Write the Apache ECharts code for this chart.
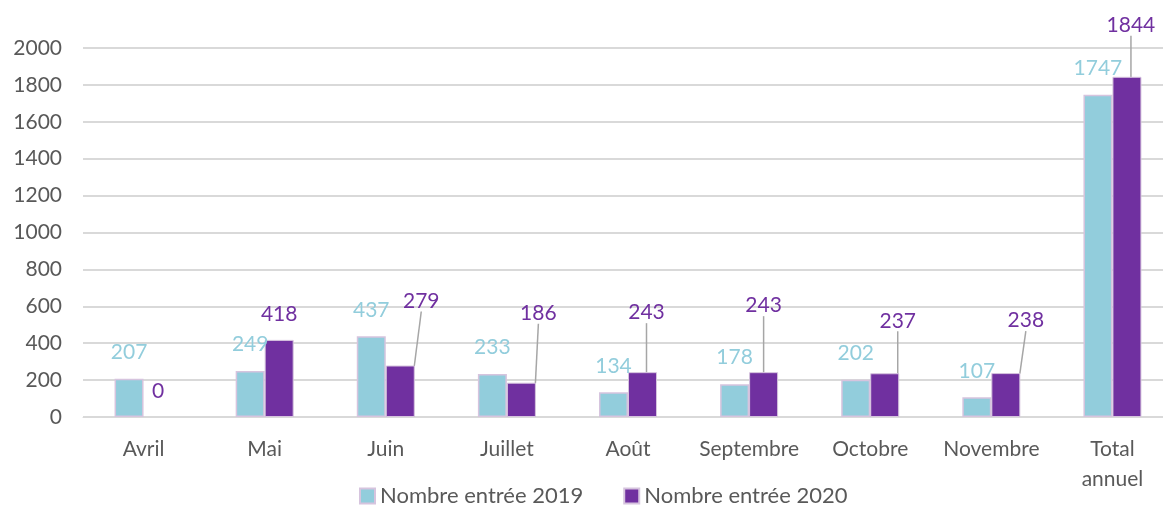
<!DOCTYPE html>
<html>
<head>
<meta charset="utf-8">
<script src="https://cdn.jsdelivr.net/npm/echarts@6/dist/echarts.min.js"></script>
<style>
  html, body { margin: 0; padding: 0; background: #fff; }
  #chart { width: 1163px; height: 512px; }
</style>
</head>
<body>
<div id="chart"></div>
<script>
// données du graphique
const months = ['Avril', 'Mai', 'Juin', 'Juillet', 'Août', 'Septembre', 'Octobre', 'Novembre', 'Total\nannuel'];
const entrees2019 = [207, 249, 437, 233, 134, 178, 202, 107, 1747];
const entrees2020 = [0, 418, 279, 186, 243, 243, 237, 238, 1844];
const yTicks = [0, 200, 400, 600, 800, 1000, 1200, 1400, 1600, 1800, 2000];

// décalage des étiquettes 2020 (comme dans le graphique d'origine)
const shift2020 = [[0, 0], [0, 0], [21, -39], [17, -44], [4, -34], [0, -41], [13, -27], [20, -27], [4, -26]];

const font = 'Lato, "Open Sans", sans-serif';
const grey = '#595959';

const chart = echarts.init(document.getElementById('chart'));

// les étiquettes déplacées gardent un trait de rappel
const data2020 = entrees2020.map((v, i) => ({
  value: v,
  itemStyle: v === 0 ? { borderWidth: 0 } : undefined,
  labelLine: { show: shift2020[i][0] !== 0 || shift2020[i][1] !== 0 }
}));

const option = {
  animation: false,
  textStyle: { fontFamily: font },
  grid: { left: 83, top: 48, width: 1090, height: 369, outerBoundsMode: 'none', containLabel: false },
  legend: {
    bottom: 0,
    left: 354,
    itemWidth: 15,
    itemHeight: 15,
    itemGap: 40,
    icon: 'rect',
    textStyle: { color: grey, fontSize: 22, fontFamily: font },
    data: ['Nombre entrée 2019', 'Nombre entrée 2020']
  },
  xAxis: {
    type: 'category',
    data: months,
    axisLine: { lineStyle: { color: '#d9d9d9', width: 1 } },
    axisTick: { show: false },
    axisLabel: { color: grey, fontSize: 21, margin: 17, lineHeight: 30, interval: 0, fontFamily: font }
  },
  yAxis: {
    type: 'value',
    min: 0,
    max: 2000,
    interval: 200,
    axisLine: { show: false },
    axisTick: { show: false },
    splitLine: { lineStyle: { color: '#d9d9d9', width: 2 } },
    axisLabel: {
      color: grey, fontSize: 21, margin: 21, fontFamily: font,
      formatter: v => (yTicks.indexOf(v) >= 0 ? String(v) : '')
    }
  },
  series: [
    {
      name: 'Nombre entrée 2019',
      type: 'bar',
      data: entrees2019,
      barWidth: 29,
      barGap: '0%',
      itemStyle: { color: '#92CDDC', borderColor: '#D6C4DE', borderWidth: 1.5 },
      label: {
        show: true,
        position: 'top',
        distance: 16,
        color: '#92CDDC',
        fontSize: 21,
        fontFamily: font
      }
    },
    {
      name: 'Nombre entrée 2020',
      type: 'bar',
      data: data2020,
      barWidth: 29,
      itemStyle: { color: '#7030A0', borderColor: '#D6C4DE', borderWidth: 1 },
      label: {
        show: true,
        position: 'top',
        distance: 15,
        color: '#7030A0',
        fontSize: 21,
        fontFamily: font
      },
      labelLine: { lineStyle: { color: '#a6a6a6', width: 1.5 } },
      labelLayout: function (params) {
        const s = shift2020[params.dataIndex];
        return { dx: s[0], dy: s[1] };
      }
    }
  ]
};

chart.setOption(option);
</script>
</body>
</html>
